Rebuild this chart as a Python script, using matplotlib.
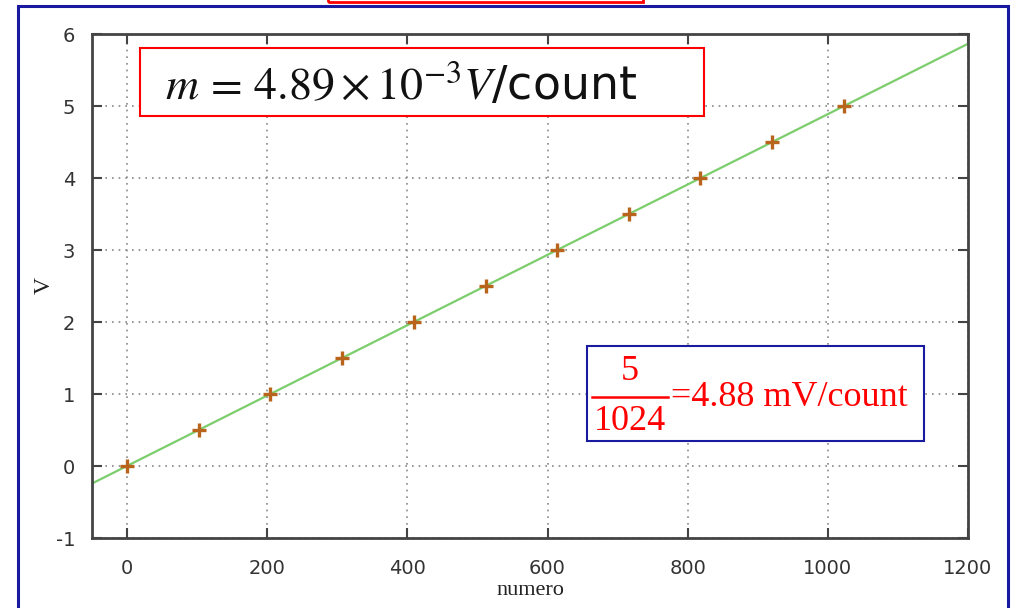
import numpy as np
import matplotlib
matplotlib.use("Agg")
import matplotlib.pyplot as plt
from matplotlib.patches import Rectangle
from matplotlib.lines import Line2D

# data
numero = [0, 102, 204, 307, 409, 512, 614, 716, 818, 921, 1023]
volts = [0.0, 0.5, 1.0, 1.5, 2.0, 2.5, 3.0, 3.5, 4.0, 4.5, 5.0]
xticks = [0, 200, 400, 600, 800, 1000, 1200]
yticks = [-1, 0, 1, 2, 3, 4, 5, 6]

plt.rcParams['mathtext.fontset'] = 'stix'
plt.rcParams['axes.unicode_minus'] = False

fig = plt.figure(figsize=(10.12, 6.08), dpi=100)
ax = fig.add_axes([92/1012, (608-538)/608, (968-92)/1012, (538-34)/608])

# linear fit
m, q = np.polyfit(numero, volts, 1)
xf = np.array([-50, 1200])
ax.plot(xf, m*xf + q, color='#7ccd6c', lw=1.6, zorder=2)
ax.plot(numero, volts, ls='none', marker='+', ms=10, mew=2.4, color='#b8641c', zorder=3)

ax.set_xlim(-50, 1200)
ax.set_ylim(-1, 6)
ax.set_xticks(xticks)
ax.set_yticks(yticks)
ax.grid(True, ls=(0, (1, 3)), color='#888888', lw=1.2)
ax.tick_params(direction='in', length=7, width=1.5, color='#444444', top=True, right=True,
               labelsize=14, labelcolor='#333333')
ax.tick_params(axis='x', pad=15)
ax.tick_params(axis='y', pad=12)
for s in ax.spines.values():
    s.set_linewidth(2)
    s.set_color('#444444')
ax.set_xlabel('numero', family='Liberation Serif', fontsize=16, color='#222222', labelpad=2)
ax.set_ylabel('V', family='Liberation Serif', fontsize=17, color='#222222')
ax.yaxis.set_label_coords(-0.042, 0.5)

# slide decorations
fig.patches.append(Rectangle((18/1012, -0.05), (1008-18)/1012, (608-6)/608 + 0.05,
                             transform=fig.transFigure, fill=False, ec='#1a1aa0', lw=2.2))
fig.patches.append(Rectangle((328/1012, (608-2)/608), (643-328)/1012, 0.02,
                             transform=fig.transFigure, fill=False, ec='red', lw=2))

# red box with slope
fig.patches.append(Rectangle((140/1012, (608-116)/608), (704-140)/1012, 68/608,
                             transform=fig.transFigure, fc='white', ec='red', lw=1.5, zorder=5))
fig.text(165/1012, (608-87)/608, r'$m\,=\,4.89\times10^{-3}V$/count', fontsize=33,
         family='DejaVu Sans', va='center', ha='left', color='#111111', zorder=6)

# blue box with 5/1024
fig.patches.append(Rectangle((587/1012, (608-441)/608), (924-587)/1012, 95/608,
                             transform=fig.transFigure, fc='white', ec='#1a1aa0', lw=1.5, zorder=5))
fig.text(630/1012, (608-372)/608, '5', fontsize=26, family='Liberation Serif',
         color='red', ha='center', va='center', zorder=6)
fig.text(630/1012, (608-422)/608, '1024', fontsize=26, family='Liberation Serif',
         color='red', ha='center', va='center', zorder=6)
fig.lines.append(Line2D([592/1012, 668/1012], [(608-397)/608]*2, transform=fig.transFigure,
                        color='red', lw=1.8, zorder=6))
fig.text(671/1012, (608-397)/608, '=4.88 mV/count', fontsize=26, family='Liberation Serif',
         color='red', ha='left', va='center', zorder=6)

fig.savefig('out.png', dpi=100)
